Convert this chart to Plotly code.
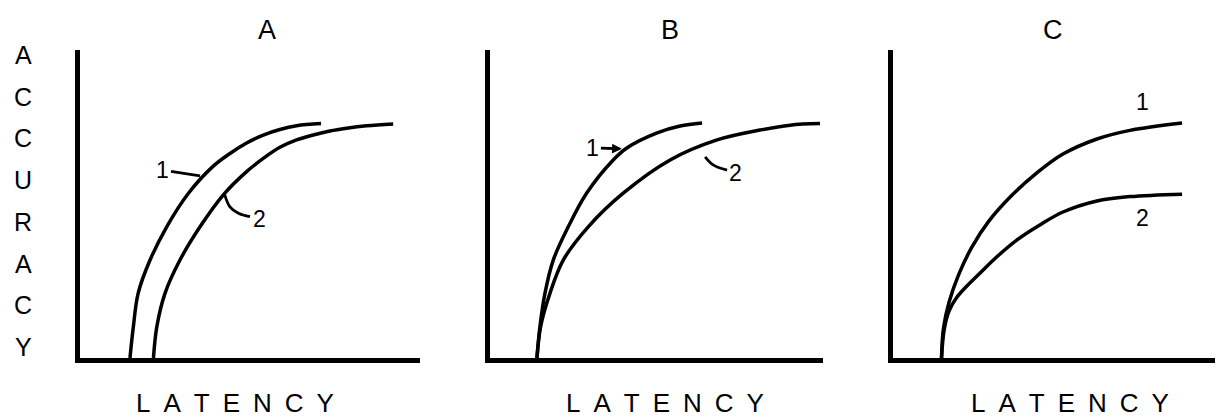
import plotly.graph_objects as go

# panel A
a1_x = [14.7, 15.7, 17.1, 20.6, 25.5, 31.9, 39.2, 44.1, 49.0, 53.9, 58.8, 63.7, 70.9]
a1_y = [0, 10.2, 21.0, 31.8, 42.6, 53.5, 62.3, 66.4, 69.8, 72.4, 74.2, 75.4, 76.1]
a2_x = [21.6, 22.6, 25.0, 29.4, 35.3, 42.1, 49.0, 53.9, 58.8, 63.7, 68.6, 73.5, 78.4, 84.3, 92.1]
a2_y = [0, 10.2, 21.0, 31.8, 42.6, 52.9, 60.5, 64.8, 68.4, 70.8, 72.4, 73.7, 74.6, 75.4, 76.0]

# panel B
b1_x = [14.1, 15.0, 16.5, 19.0, 23.5, 29.0, 37.0, 41.1, 50.2, 57.1, 63.7]
b1_y = [0, 10.2, 21.0, 31.8, 42.6, 53.5, 64.3, 68.2, 73.1, 75.3, 76.3]
b2_x = [14.1, 15.2, 18.0, 22.0, 29.5, 40.0, 54.1, 68.2, 81.1, 90.1, 99.1]
b2_y = [0, 10.2, 21.0, 31.8, 42.6, 53.5, 64.3, 70.8, 74.0, 75.6, 76.1]

# panel C
c1_x = [14.7, 15.3, 17.0, 20.0, 23.9, 29.1, 36.1, 43.6, 51.5, 61.8, 71.8, 87.6]
c1_y = [0, 9.7, 18.2, 27.3, 36.0, 44.5, 52.9, 60.1, 66.2, 71.1, 73.9, 76.3]
c2_x = [14.7, 15.5, 17.0, 19.4, 22.4, 26.4, 31.4, 37.5, 44.5, 51.5, 61.8, 71.8, 87.6]
c2_y = [0, 9.1, 15.3, 19.8, 23.4, 27.6, 32.8, 38.3, 43.2, 47.4, 51.0, 52.4, 53.2]

# leader hooks next to the "2" labels
hook_a_x = [42.6, 44.1, 46.6, 50.0]
hook_a_y = [52.9, 49.1, 47.0, 45.9]
hook_b_x = [64.6, 67.0, 71.2]
hook_b_y = [65.3, 62.7, 61.0]

panel_titles = ["A", "B", "C"]
x_label = "LATENCY"
y_label = "ACCURACY"

# the page body has an 8px margin, so the figure sits at (8, 8)
W, H = 1215, 412
OFF = 8
FONT = "Liberation Sans, Arial, Helvetica, sans-serif"

def px(x):
    return (x - OFF) / W

def py(y):
    return 1 - (y - OFF) / H

# pixel extents of each panel (left, right), shared top/bottom
panels = [(80, 420), (490, 823), (893, 1223)]
top, bottom = 50, 358

fig = go.Figure()

curves = [(a1_x, a1_y, a2_x, a2_y), (b1_x, b1_y, b2_x, b2_y), (c1_x, c1_y, c2_x, c2_y)]
line = dict(color="black", width=3.5, shape="spline", smoothing=1.0)

for i, (x1, y1, x2, y2) in enumerate(curves):
    sfx = "" if i == 0 else str(i + 1)
    fig.add_trace(go.Scatter(x=x1, y=y1, mode="lines", line=line,
                             xaxis="x" + sfx, yaxis="y" + sfx, hoverinfo="skip"))
    fig.add_trace(go.Scatter(x=x2, y=y2, mode="lines", line=line,
                             xaxis="x" + sfx, yaxis="y" + sfx, hoverinfo="skip"))

hook = dict(color="black", width=2.8, shape="spline")
fig.add_trace(go.Scatter(x=hook_a_x, y=hook_a_y, mode="lines", line=hook,
                         xaxis="x", yaxis="y", hoverinfo="skip"))
fig.add_trace(go.Scatter(x=hook_b_x, y=hook_b_y, mode="lines", line=hook,
                         xaxis="x2", yaxis="y2", hoverinfo="skip"))

layout = dict(
    width=W, height=H,
    margin=dict(l=0, r=0, t=0, b=0),
    paper_bgcolor="white", plot_bgcolor="white",
    showlegend=False,
)
for i, (l, r) in enumerate(panels):
    sfx = "" if i == 0 else str(i + 1)
    layout["xaxis" + sfx] = dict(
        domain=[px(l), min(px(r), 1)], range=[0, 100], anchor="y" + sfx,
        showline=True, linewidth=5, linecolor="black",
        showgrid=False, zeroline=False, showticklabels=False, ticks="",
        fixedrange=True,
    )
    layout["yaxis" + sfx] = dict(
        domain=[py(bottom), py(top)], range=[0, 100], anchor="x" + sfx,
        showline=True, linewidth=5, linecolor="black",
        showgrid=False, zeroline=False, showticklabels=False, ticks="",
        fixedrange=True,
    )
fig.update_layout(**layout)

ann = []
big = dict(family=FONT, size=27, color="black")
num = dict(family=FONT, size=23, color="black")
ctr = dict(xanchor="center", yanchor="middle")

# panel titles
for t, xc in zip(panel_titles, [267, 670, 1053]):
    ann.append(dict(text=t, x=px(xc), y=py(30), xref="paper", yref="paper",
                    showarrow=False, font=big, **ctr))

# x labels with wide letter spacing
spaced = "\u2002".join(x_label)
for xc in [235, 665, 1070]:
    ann.append(dict(text=spaced, x=px(xc), y=py(403), xref="paper", yref="paper",
                    showarrow=False, font=dict(family=FONT, size=26, color="black"), **ctr))

# vertical y label, one letter per line
for k, ch in enumerate(y_label):
    ann.append(dict(text=ch, x=px(23), y=py(55 + k * 41.7), xref="paper", yref="paper",
                    showarrow=False, font=dict(family=FONT, size=25, color="black"), **ctr))

# curve labels
ann.append(dict(text="1", x=35.3, y=59.1, ax=24.4, ay=61.0, axref="x", ayref="y",
                xref="x", yref="y", showarrow=True, arrowhead=0, arrowwidth=2.8,
                arrowcolor="black", standoff=0, font=num))
ann.append(dict(text="2", x=52.8, y=45.1, xref="x", yref="y", showarrow=False, font=num, **ctr))
ann.append(dict(text="1", x=39.9, y=67.9, ax=30.9, ay=68.2, axref="x2", ayref="y2",
                xref="x2", yref="y2", showarrow=True, arrowhead=2, arrowsize=0.7,
                arrowwidth=2.8, arrowcolor="black", standoff=1, font=num))
ann.append(dict(text="2", x=73.8, y=60.0, xref="x2", yref="y2", showarrow=False, font=num, **ctr))
ann.append(dict(text="1", x=75.5, y=83.1, xref="x3", yref="y3", showarrow=False, font=num, **ctr))
ann.append(dict(text="2", x=75.5, y=45.5, xref="x3", yref="y3", showarrow=False, font=num, **ctr))

fig.update_layout(annotations=ann)

fig.write_html("out.html", config={"displayModeBar": False})
